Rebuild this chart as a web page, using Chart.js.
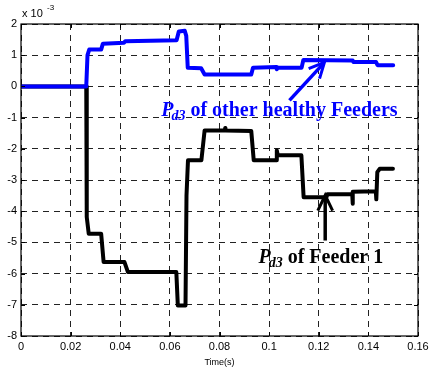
<!DOCTYPE html>
<html><head><meta charset="utf-8">
<script src="https://cdn.jsdelivr.net/npm/chart.js@4/dist/chart.umd.min.js"></script>
<style>html,body{margin:0;padding:0;background:#fff}canvas{display:block}</style>
</head><body>
<canvas id="c" width="431" height="371"></canvas>
<script>
// Time (s)
const otherT = [0, 0.0263, 0.0268, 0.0275, 0.0323, 0.0330, 0.0415, 0.0420, 0.0627, 0.0636, 0.0660, 0.0666, 0.0672, 0.0726, 0.0740, 0.0928, 0.0935, 0.1029, 0.1031, 0.1035, 0.1131, 0.1138, 0.1337, 0.1340, 0.1431, 0.1437, 0.1500];
// Pd3 of other healthy feeders (x 10^-3)
const otherV = [0, 0, 1.00, 1.18, 1.18, 1.37, 1.40, 1.45, 1.48, 1.76, 1.78, 1.62, 0.60, 0.58, 0.38, 0.38, 0.60, 0.62, 0.55, 0.60, 0.60, 0.85, 0.83, 0.78, 0.78, 0.68, 0.68];
const feeder1T = [0, 0.0263, 0.0265, 0.0273, 0.0323, 0.0333, 0.0417, 0.0431, 0.0626, 0.0632, 0.0663, 0.0667, 0.0673, 0.0727, 0.0740, 0.0822, 0.0823, 0.0824, 0.0928, 0.0938, 0.1029, 0.1031, 0.1035, 0.1130, 0.1139, 0.1231, 0.1235, 0.1335, 0.1336, 0.1338, 0.1430, 0.1432, 0.1436, 0.1446, 0.1499];
// Pd3 of feeder 1 (x 10^-3)
const feeder1V = [0, 0, -4.19, -4.72, -4.72, -5.63, -5.63, -5.95, -5.95, -7.02, -7.02, -3.50, -2.37, -2.37, -1.41, -1.41, -1.33, -1.41, -1.43, -2.37, -2.37, -2.05, -2.21, -2.21, -3.55, -3.55, -3.46, -3.46, -3.76, -3.38, -3.36, -3.62, -2.75, -2.64, -2.64];
const xTickLabels = ['0', '0.02', '0.04', '0.06', '0.08', '0.1', '0.12', '0.14', '0.16'];
const yTickLabels = ['-8', '-7', '-6', '-5', '-4', '-3', '-2', '-1', '0', '1', '2'];
const xTitle = 'Time(s)';
const label1 = ' of other healthy Feeders';
const label2 = ' of Feeder 1';

const toPts = (t, v) => t.map((x, i) => ({x: x, y: v[i]}));

const decor = {
  id: 'decor',
  afterDatasetsDraw(chart) {
    const {ctx, chartArea: a, scales: {x, y}} = chart;
    ctx.save();
    // box
    ctx.strokeStyle = '#000'; ctx.lineWidth = 1.2; ctx.setLineDash([]);
    ctx.strokeRect(a.left, a.top, a.right - a.left, a.bottom - a.top);
    // inward ticks
    ctx.lineWidth = 1;
    x.ticks.forEach(tk => {
      const px = Math.round(x.getPixelForValue(tk.value)) + 0.5;
      ctx.beginPath(); ctx.moveTo(px, a.bottom); ctx.lineTo(px, a.bottom - 4);
      ctx.moveTo(px, a.top); ctx.lineTo(px, a.top + 4); ctx.stroke();
    });
    y.ticks.forEach(tk => {
      const py = Math.round(y.getPixelForValue(tk.value)) + 0.5;
      ctx.beginPath(); ctx.moveTo(a.left, py); ctx.lineTo(a.left + 4, py);
      ctx.moveTo(a.right, py); ctx.lineTo(a.right - 4, py); ctx.stroke();
    });
    // exponent label
    ctx.fillStyle = '#000'; ctx.textBaseline = 'alphabetic'; ctx.textAlign = 'left';
    ctx.font = '11px "Liberation Sans", Arial, sans-serif';
    ctx.fillText('x 10', a.left + 1, 17);
    ctx.font = '8px "Liberation Sans", Arial, sans-serif';
    ctx.fillText('-3', a.left + 26, 10);
    // annotation texts
    const drawLabel = (px, py, rest, color) => {
      ctx.fillStyle = color;
      ctx.font = 'italic bold 20px "Liberation Serif", "Times New Roman", serif';
      ctx.fillText('P', px, py);
      let w = ctx.measureText('P').width;
      ctx.font = 'italic bold 14px "Liberation Serif", "Times New Roman", serif';
      ctx.fillText('d3', px + w - 2, py + 4);
      w += ctx.measureText('d3').width - 2;
      ctx.font = 'bold 20px "Liberation Serif", "Times New Roman", serif';
      ctx.fillText(rest, px + w, py);
    };
    drawLabel(x.getPixelForValue(0.0565), y.getPixelForValue(-0.96), label1, '#0000ff');
    drawLabel(x.getPixelForValue(0.0957), y.getPixelForValue(-5.67), label2, '#000');
    // arrows
    const arrow = (t0, v0, t1, v1, color) => {
      const x0 = x.getPixelForValue(t0), y0 = y.getPixelForValue(v0);
      const x1 = x.getPixelForValue(t1), y1 = y.getPixelForValue(v1);
      const ang = Math.atan2(y1 - y0, x1 - x0);
      ctx.strokeStyle = color; ctx.lineWidth = 3.5; ctx.lineCap = 'butt';
      ctx.beginPath(); ctx.moveTo(x0, y0); ctx.lineTo(x1 - 3 * Math.cos(ang), y1 - 3 * Math.sin(ang)); ctx.stroke();
      ctx.lineWidth = 3;
      ctx.beginPath();
      ctx.moveTo(x1 - 17 * Math.cos(ang - 0.45), y1 - 17 * Math.sin(ang - 0.45));
      ctx.lineTo(x1, y1);
      ctx.lineTo(x1 - 17 * Math.cos(ang + 0.45), y1 - 17 * Math.sin(ang + 0.45));
      ctx.stroke();
    };
    arrow(0.1082, -0.45, 0.1223, 0.77, '#0000ff');
    arrow(0.1226, -4.94, 0.1226, -3.49, '#000');
    ctx.restore();
  }
};

new Chart(document.getElementById('c'), {
  type: 'scatter',
  data: {
    datasets: [
      {data: toPts(otherT, otherV), showLine: true, borderColor: '#0000ff', borderWidth: 4, pointRadius: 0, tension: 0, borderJoinStyle: 'round', borderCapStyle: 'round'},
      {data: toPts(feeder1T, feeder1V), showLine: true, borderColor: '#000', borderWidth: 4, pointRadius: 0, tension: 0, borderJoinStyle: 'round', borderCapStyle: 'round'}
    ]
  },
  options: {
    responsive: false, animation: false, devicePixelRatio: 1,
    layout: {padding: {top: 24, right: 13, left: 0, bottom: 0}},
    plugins: {legend: {display: false}, tooltip: {enabled: false}},
    scales: {
      x: {
        type: 'linear', min: 0, max: 0.16,
        afterFit: s => { s.height = 35; s.paddingLeft = 0; s.paddingRight = 0; },
        afterBuildTicks: s => { s.ticks = xTickLabels.map(v => ({value: parseFloat(v)})); },
        ticks: {callback: (v, i) => xTickLabels[i], color: '#000', font: {family: '"Liberation Sans", Arial, sans-serif', size: 11}, padding: 4, maxRotation: 0, autoSkip: false},
        grid: {color: '#222', lineWidth: 1, drawTicks: false},
        border: {display: false, dash: [6, 5]},
        title: {display: true, text: xTitle, color: '#000', font: {family: '"Liberation Sans", Arial, sans-serif', size: 9}, padding: {top: 0, bottom: 3}}
      },
      y: {
        type: 'linear', min: -8, max: 2,
        afterFit: s => { s.width = 21; },
        afterBuildTicks: s => { s.ticks = yTickLabels.map(v => ({value: parseFloat(v)})); },
        ticks: {callback: (v, i) => yTickLabels[i], color: '#000', font: {family: '"Liberation Sans", Arial, sans-serif', size: 11}, padding: 4, autoSkip: false},
        grid: {color: '#222', lineWidth: 1, drawTicks: false},
        border: {display: false, dash: [6, 5]}
      }
    }
  },
  plugins: [decor]
});
</script>
</body></html>
